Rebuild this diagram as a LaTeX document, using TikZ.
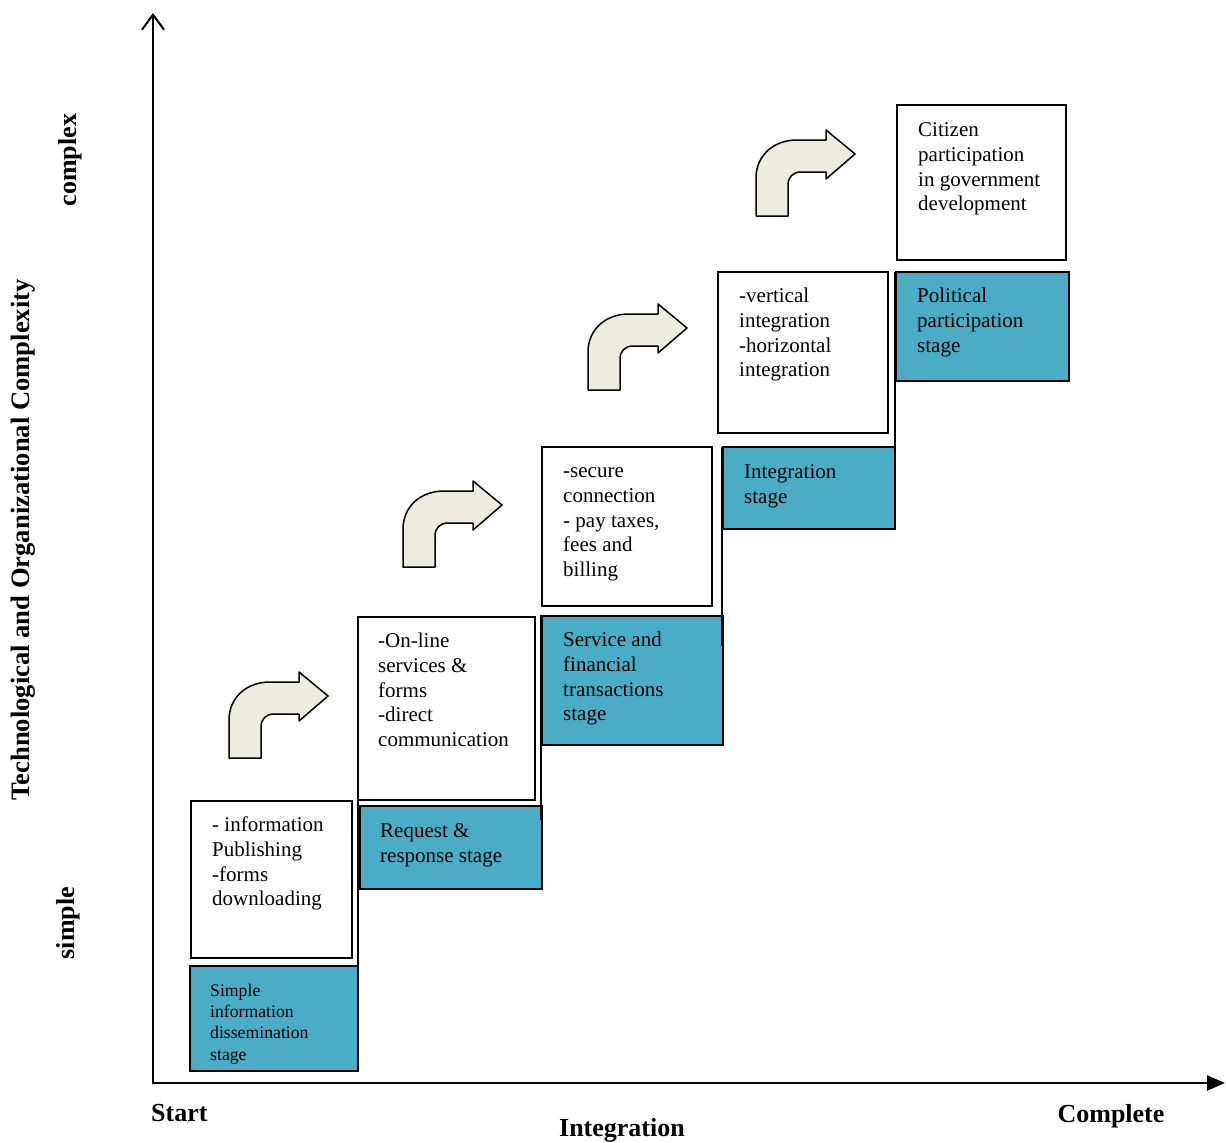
\documentclass[tikz,border=0pt]{standalone}
\usepackage{fontspec}
\setmainfont{Liberation Serif}
\usetikzlibrary{arrows.meta,calc}
\definecolor{stageblue}{RGB}{75,172,198}
\definecolor{arrowfill}{RGB}{238,236,225}
\begin{document}
\begin{tikzpicture}[x=1pt,y=-1pt,
  wbox/.style={draw=black, line width=1.5pt, fill=white, inner sep=0pt, outer sep=0pt, anchor=north west},
  bbox/.style={wbox, fill=stageblue},
  txt/.style={anchor=north west, inner sep=0pt, align=left, font=\fontsize{21}{24.75}\selectfont},
  smalltxt/.style={txt, font=\fontsize{17.7}{21.3}\selectfont},
  bent/.style={draw=black, line width=1.5pt, fill=arrowfill, line join=round},
  axis/.style={line width=2.5pt},
  joint/.style={line width=1.5pt},
  axlabel/.style={inner sep=0pt, font=\fontsize{26}{30}\selectfont\bfseries},
  bentarrow/.pic={
    \draw[bent] (0,0) -- (0,-38) .. controls (0,-60) and (17,-76) .. (41,-76)
      -- (70,-76) -- (70,-86) -- (99,-62) -- (70,-37) -- (70,-44) -- (45,-44)
      .. controls (37,-44) and (32,-39) .. (32,-31) -- (32,0) -- cycle;
  }]
\useasboundingbox (0,0) rectangle (1226,1143);

% axes
\coordinate (O) at (153,1084);
\coordinate (ytop) at (153,13);
\coordinate (xend) at (1225,1083);
\draw[axis, -{Straight Barb[length=15pt,width=22pt,line width=2pt]}] (O) -- (ytop);
\draw[axis, -{Triangle[length=18pt,width=15pt]}] (151.75,1083) -- (xend);

% boxes
\node[wbox, minimum width=161pt, minimum height=157pt] (w1) at (191,801) {};
\node[bbox, minimum width=168pt, minimum height=105pt] (b1) at (190,966) {};
\node[wbox, minimum width=177pt, minimum height=183pt] (w2) at (358,617) {};
\node[bbox, minimum width=182pt, minimum height=83pt] (b2) at (360,806) {};
\node[wbox, minimum width=170pt, minimum height=159pt] (w3) at (542,447) {};
\node[bbox, minimum width=181pt, minimum height=129pt] (b3) at (542,616) {};
\node[wbox, minimum width=170pt, minimum height=161pt] (w4) at (718,272) {};
\node[bbox, minimum width=172pt, minimum height=82pt] (b4) at (723,447) {};
\node[wbox, minimum width=169pt, minimum height=155pt] (w5) at (897,105) {};
\node[bbox, minimum width=173pt, minimum height=109pt] (b5) at (896,272) {};

% staircase joints
\draw[joint] (b1.north east) -- (b1.north east |- w1.north);
\draw[joint] ($(b2.north east)+(-1,14)$) -- ($(b2.north east)+(-1,0)$) |- (b3.north west);
\draw[joint] ($(b3.north east)+(-1,30)$) -- ($(b3.north east |- b4.north)+(-1,0)$);
\draw[joint] ($(b4.north east)+(0,23)$) -- (b4.north east |- b5.north);

% texts
\node[txt] (t1) at (212,814.2) {\strut- information\\Publishing\\-forms\\downloading};
\node[smalltxt] (s1) at (210,981) {\strut Simple\\information\\dissemination\\stage};
\node[txt] (t2) at (378,630.2) {\strut-On-line\\services \&\\forms\\-direct\\communication};
\node[txt] (s2) at (380,820.2) {\strut Request \&\\response stage};
\node[txt] (t3) at (563,460.2) {\strut-secure\\connection\\- pay taxes,\\fees and\\billing};
\node[txt] (s3) at (563,629.2) {\strut Service and\\financial\\transactions\\stage};
\node[txt] (t4) at (739,285.2) {\strut-vertical\\integration\\-horizontal\\integration};
\node[txt] (s4) at (744,461.2) {\strut Integration\\stage};
\node[txt] (t5) at (918,119.2) {\strut Citizen\\participation\\in government\\development};
\node[txt] (s5) at (917,285.2) {\strut Political\\participation\\stage};

% bent arrows
\pic at (229,758) {bentarrow};
\pic at (403,567) {bentarrow};
\pic at (588,390) {bentarrow};
\pic at (756,216) {bentarrow};

% axis labels
\node[axlabel, anchor=west] (start) at (151,1113) {Start};
\node[axlabel] (integ) at (622,1130) {Integration};
\node[axlabel] (compl) at (1111,1116) {Complete};
\node[axlabel, rotate=90, font=\fontsize{26.6}{30}\selectfont\bfseries] (ylab) at (23,540) {Technological and Organizational Complexity};
\node[axlabel, rotate=90] (cx) at (70,160) {complex};
\node[axlabel, rotate=90] (sp) at (68,923) {simple};
\end{tikzpicture}
\end{document}
